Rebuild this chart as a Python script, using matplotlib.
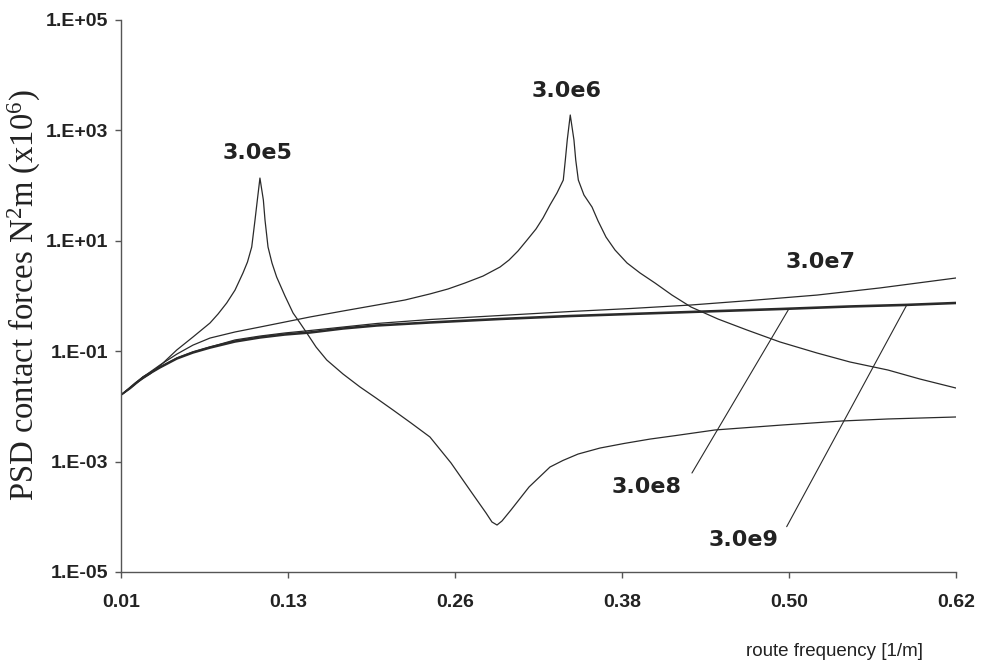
import matplotlib
matplotlib.use("Agg")
import matplotlib.pyplot as plt
from matplotlib.ticker import FixedLocator, FuncFormatter
import numpy as np

plt.rcParams['mathtext.fontset'] = 'custom'
plt.rcParams['mathtext.rm'] = 'Liberation Serif'
plt.rcParams['mathtext.it'] = 'Liberation Serif:italic'

# route frequency [1/m] and PSD of contact forces for each contact stiffness
x_3e5 = [0.0100, 0.0202, 0.0312, 0.0407, 0.0507, 0.0626, 0.0750, 0.0809, 0.0872,
         0.0933, 0.0991, 0.1024, 0.1055, 0.1079, 0.1096, 0.1115, 0.1140, 0.1152,
         0.1174, 0.1203, 0.1237, 0.1298, 0.1357, 0.1408, 0.1457, 0.1525, 0.1603,
         0.1722, 0.1846, 0.1963, 0.2087, 0.2219, 0.2357, 0.2511, 0.2664, 0.2767,
         0.2810, 0.2847, 0.2883, 0.2949, 0.3081, 0.3234, 0.3329, 0.3439, 0.3599,
         0.3775, 0.3965, 0.4155, 0.4439, 0.4929, 0.5367, 0.5703, 0.6200]
psd_3e5 = [0.0161, 0.0255, 0.0386, 0.0611, 0.105, 0.181, 0.324, 0.472, 0.746,
           1.28, 2.61, 4.13, 7.73, 23.8, 54.8, 137.0, 54.8, 23.8,
           7.73, 3.96, 2.21, 1.00, 0.492, 0.324, 0.214, 0.119, 0.0693,
           0.0386, 0.0225, 0.0142, 0.00861, 0.00500, 0.00279, 0.000944, 0.000270, 0.000117,
           8.05e-5, 7.10e-5, 8.39e-5, 0.000133, 0.000347, 0.000798, 0.00105, 0.00137, 0.00176,
           0.00213, 0.00256, 0.00297, 0.00374, 0.00460, 0.00544, 0.00592, 0.00643]

x_3e6 = [0.0100, 0.0202, 0.0261, 0.0385, 0.0509, 0.0626, 0.0750, 0.0933, 0.1115,
         0.1298, 0.1481, 0.1722, 0.1970, 0.2175, 0.2357, 0.2489, 0.2613, 0.2745,
         0.2869, 0.2935, 0.3000, 0.3066, 0.3132, 0.3183, 0.3234, 0.3285, 0.3331,
         0.3346, 0.3360, 0.3382, 0.3409, 0.3422, 0.3441, 0.3482, 0.3541, 0.3585,
         0.3643, 0.3709, 0.3797, 0.3892, 0.4001, 0.4125, 0.4264, 0.4461, 0.4673,
         0.4914, 0.5185, 0.5426, 0.5703, 0.5937, 0.6200]
psd_3e6 = [0.0161, 0.0265, 0.0341, 0.0562, 0.0889, 0.129, 0.173, 0.223, 0.274,
           0.338, 0.417, 0.535, 0.687, 0.847, 1.09, 1.34, 1.72, 2.30,
           3.35, 4.49, 6.53, 10.3, 16.4, 25.9, 44.6, 73.5, 126.0,
           291.0, 670.0, 1900.0, 670.0, 291.0, 126.0, 67.6, 40.9, 22.9,
           11.7, 6.81, 3.96, 2.61, 1.72, 1.04, 0.632, 0.383, 0.242,
           0.147, 0.0927, 0.0637, 0.0456, 0.0313, 0.0215]

x_3e7 = [0.0100, 0.0166, 0.0261, 0.0385, 0.0509, 0.0626, 0.0750, 0.0933, 0.1115,
         0.1298, 0.1481, 0.1722, 0.1970, 0.2357, 0.2869, 0.3387, 0.3826, 0.4264,
         0.4695, 0.5185, 0.5645, 0.6200]
psd_3e7 = [0.0161, 0.0215, 0.0341, 0.0518, 0.0753, 0.0968, 0.119, 0.160, 0.188,
           0.214, 0.237, 0.274, 0.318, 0.375, 0.443, 0.524, 0.594, 0.687,
           0.828, 1.04, 1.40, 2.12]

x_3e8 = [0.0100, 0.0166, 0.0261, 0.0385, 0.0509, 0.0626, 0.0750, 0.0933, 0.1115,
         0.1298, 0.1481, 0.1722, 0.1970, 0.2357, 0.2869, 0.3387, 0.3826, 0.4264,
         0.4929, 0.5426, 0.5827, 0.6200]
psd_3e8 = [0.0161, 0.0215, 0.0341, 0.0518, 0.0753, 0.0968, 0.119, 0.153, 0.181,
           0.205, 0.223, 0.263, 0.298, 0.338, 0.391, 0.443, 0.482, 0.524,
           0.594, 0.659, 0.702, 0.762]

x_3e9 = [0.0100, 0.0166, 0.0261, 0.0385, 0.0509, 0.0626, 0.0750, 0.0933, 0.1115,
         0.1298, 0.1481, 0.1722, 0.1970, 0.2357, 0.2869, 0.3387, 0.3826, 0.4264,
         0.4929, 0.5426, 0.5827, 0.6200]
psd_3e9 = [0.0161, 0.0210, 0.0330, 0.0500, 0.0725, 0.0930, 0.114, 0.147, 0.174,
           0.197, 0.214, 0.253, 0.287, 0.325, 0.376, 0.426, 0.464, 0.504,
           0.571, 0.634, 0.675, 0.733]

x_tick_labels = ["0.01", "0.13", "0.26", "0.38", "0.50", "0.62"]
y_exponents = [-5, -3, -1, 1, 3, 5]

fig = plt.figure(figsize=(9.82, 6.69), dpi=100)
fig.patch.set_facecolor("white")
ax = fig.add_axes([121 / 982, 1 - 572 / 669, 835 / 982, 552 / 669])

ink = "#2a2a2a"
ax.plot(x_3e5, psd_3e5, lw=0.9, color=ink)
ax.plot(x_3e6, psd_3e6, lw=0.9, color=ink)
ax.plot(x_3e7, psd_3e7, lw=0.9, color=ink)
ax.plot(x_3e8, psd_3e8, lw=1.2, color=ink)
ax.plot(x_3e9, psd_3e9, lw=1.2, color=ink)

ax.set_yscale("log")
ax.set_xlim(0.01, 0.62)
ax.set_ylim(1e-5, 1e5)

ax.xaxis.set_major_locator(FixedLocator(np.linspace(0.01, 0.62, len(x_tick_labels))))
ax.set_xticklabels(x_tick_labels)
ax.yaxis.set_major_locator(FixedLocator([10.0 ** e for e in y_exponents]))
ax.yaxis.set_minor_locator(FixedLocator([]))
ax.yaxis.set_major_formatter(FuncFormatter(lambda v, p: "1.E%+03d" % int(round(np.log10(v)))))

for s in ("top", "right"):
    ax.spines[s].set_visible(False)
for s in ("left", "bottom"):
    ax.spines[s].set_color("#555555")
    ax.spines[s].set_linewidth(1.0)

ax.tick_params(axis="both", direction="out", length=4, width=1.0, color="#555555")
ax.tick_params(axis="y", pad=5)
ax.tick_params(axis="x", pad=12)
for lab in ax.get_yticklabels():
    lab.set_fontfamily(["Liberation Sans"])
    lab.set_fontweight("bold")
    lab.set_fontsize(14)
    lab.set_color("#222222")
for lab in ax.get_xticklabels():
    lab.set_fontfamily(["Liberation Sans"])
    lab.set_fontweight("bold")
    lab.set_fontsize(14)
    lab.set_color("#222222")

fig.text(24 / 982, 1 - 295 / 669, r"PSD contact forces N$^2$m (x10$^6$)",
         rotation=90, ha="center", va="center", fontsize=23.5,
         family="Liberation Serif", color="#222222")
fig.text(835 / 982, 1 - 651 / 669, "route frequency [1/m]", ha="center", va="center",
         fontsize=13.5, family="Liberation Sans", color="#222222")

lbl = dict(fontsize=16, fontweight="bold", family="DejaVu Sans", color="#222222",
           ha="center", va="center")
ax.text(0.1094, 390, "3.0e5", **lbl)
ax.text(0.3358, 5180, "3.0e6", **lbl)
ax.text(0.5207, 4.13, "3.0e7", **lbl)
ax.text(0.3943, 3.47e-4, "3.0e8", **lbl)
ax.text(0.4644, 3.8e-5, "3.0e9", **lbl)

# leader lines from the lower labels up to the stiff-contact curves
leader = dict(arrowstyle="-", color=ink, lw=0.8, shrinkA=0, shrinkB=0)
ax.annotate("", xy=(0.4980, 0.59), xytext=(0.4271, 6.21e-4), arrowprops=leader)
ax.annotate("", xy=(0.5842, 0.70), xytext=(0.4963, 6.62e-5), arrowprops=leader)

fig.savefig("out.png", dpi=100, facecolor="white")
